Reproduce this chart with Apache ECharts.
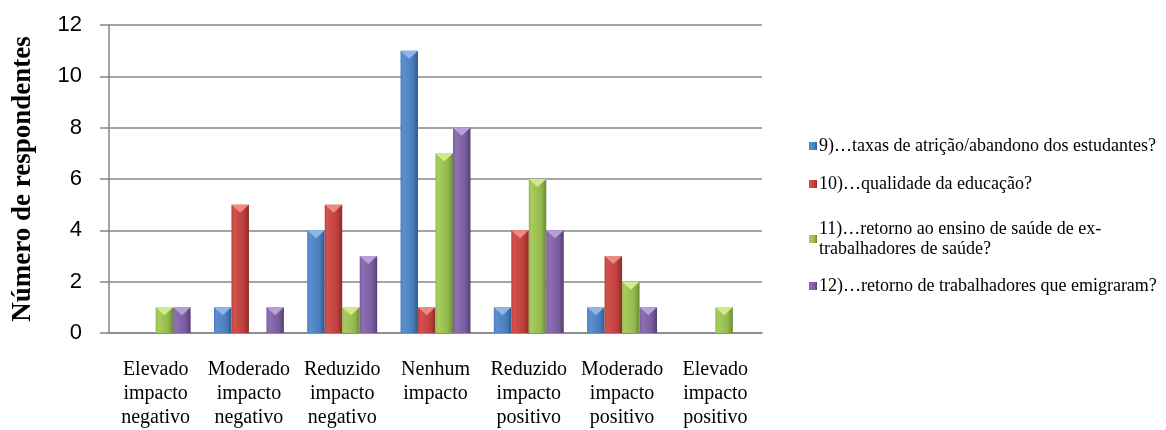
<!DOCTYPE html>
<html><head><meta charset="utf-8">
<script src="https://cdn.jsdelivr.net/npm/echarts@6/dist/echarts.min.js"></script>
<style>html,body{margin:0;padding:0;background:#fff}#c{width:1166px;height:430px}</style>
</head><body><div id="c"></div>
<script>
const categories = ['Elevado\nimpacto\nnegativo','Moderado\nimpacto\nnegativo','Reduzido\nimpacto\nnegativo','Nenhum\nimpacto','Reduzido\nimpacto\npositivo','Moderado\nimpacto\npositivo','Elevado\nimpacto\npositivo'];
const seriesNames = ['9)…taxas de atrição/abandono dos estudantes?','10)…qualidade da educação?','11)…retorno ao ensino de saúde de ex-trabalhadores de saúde?','12)…retorno de trabalhadores que emigraram?'];
const s9 = [0,1,4,11,1,1,0];
const s10 = [0,5,5,1,4,3,0];
const s11 = [1,0,1,7,6,2,1];
const s12 = [1,1,3,8,4,1,0];
const yTicks = [0,2,4,6,8,10,12];

const colors = [
  ['#5b8fd0','#4a7ebb','#2f5b8f','#8fb6e6'],
  ['#d4524e','#be403c','#8c2b28','#ec8a86'],
  ['#a8cc5e','#93b94e','#6b8a33','#d2ea8c'],
  ['#8d70b3','#7a5c9f','#563f74','#b7a0d6']
];
function grad(c){
  return {type:'linear',x:0,y:0,x2:1,y2:0,colorStops:[
    {offset:0,color:c[1]},{offset:0.15,color:c[0]},{offset:0.7,color:c[1]},{offset:1,color:c[2]}]};
}
const data = [s9,s10,s11,s12];
const series = data.map((d,i)=>({
  name: seriesNames[i], type:'bar', data:d.map(v=>v===0?null:v),
  barGap:'0%', barCategoryGap:'25%',
  itemStyle:{color:grad(colors[i])}
}));
const caps = data.map((d,i)=>({
  type:'pictorialBar', data:d.map(v=>v===0?null:v),
  barGap:'0%', barCategoryGap:'25%', silent:true, z:3,
  symbol:'path://M0,0 L10,0 L5,6 Z', symbolSize:['100%',8],
  symbolPosition:'end', symbolRepeat:false,
  itemStyle:{color:colors[i][3]}
}));
const legendTops = [131,169,214,271];
const legends = seriesNames.map((n,i)=>({
  data:[n], orient:'vertical', left:804, top:legendTops[i],
  itemWidth:8, itemHeight:8, itemGap:4, icon:'rect',
  formatter: s=> s.replace('de ex-','de ex-\n'),
  textStyle:{fontFamily:'Liberation Serif',fontSize:18,color:'#000',lineHeight:20,padding:[0,0,0,-3]}
}));
const chart = echarts.init(document.getElementById('c'));
chart.setOption({
  animation:false,
  color: colors.map(c=>c[1]),
  legend: legends,
  grid:{left:109,right:404,top:25,bottom:97},
  xAxis:{type:'category',data:categories,
    axisLine:{lineStyle:{color:'#868686',width:1.5}},axisTick:{show:false},
    axisLabel:{fontFamily:'Liberation Serif',fontSize:20,color:'#000',lineHeight:24,margin:25,interval:0}},
  yAxis:{type:'value',min:0,max:12,interval:2,
    name:'Número de respondentes',nameLocation:'middle',nameRotate:90,nameGap:72,
    nameTextStyle:{fontFamily:'Liberation Serif',fontWeight:'bold',fontSize:27,color:'#000'},
    axisLine:{show:true,lineStyle:{color:'#868686',width:1.5}},
    axisTick:{show:true,length:9,lineStyle:{color:'#868686',width:1.5}},
    splitLine:{lineStyle:{color:'#868686',width:1.5}},
    axisLabel:{fontFamily:'Liberation Sans',fontSize:22,color:'#000',margin:27,
      formatter:v=>yTicks.includes(v)?String(v):''}},
  series: series.concat(caps)
});
</script></body></html>
